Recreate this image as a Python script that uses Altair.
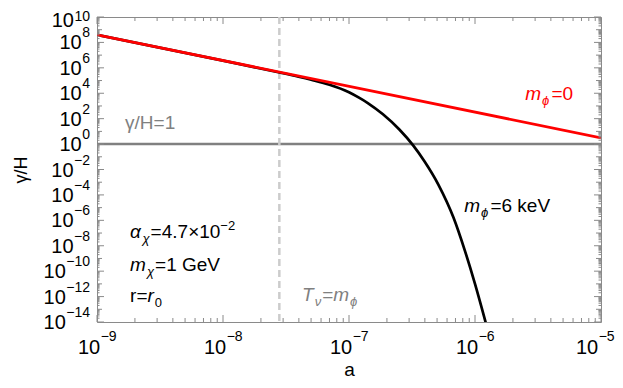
import altair as alt
import pandas as pd

# ---------------- data ----------------
red_a = [1e-9, 1e-5]
red_y = [4.0e8, 3.1]

black_a = [1e-9, 1e-8, 2.75e-8, 3.98e-8, 5.01e-8, 7.0e-8, 1.0e-7, 1.2e-7, 1.41e-7, 1.86e-7,
           2.51e-7, 3.24e-7, 3.98e-7, 5.13e-7, 6.76e-7, 8.32e-7, 1.0e-6, 1.22e-6]
black_y = [4.0e8, 3.7e6, 4.5e5, 2.0e5, 1.15e5, 4.7e4, 1.2e4, 4.5e3, 1.7e3, 2.2e2,
           1.4e1, 7.6e-1, 4.3e-2, 6.3e-4, 1.6e-6, 4.0e-9, 1.0e-11, 8.0e-15]

unity_y = [1.0]
threshold_a = [2.8e-8]

x_exponents = [-9, -8, -7, -6, -5]
y_exponents = list(range(-14, 11, 2))
x_tick_values = [10.0 ** e for e in x_exponents]
y_tick_values = [10.0 ** e for e in y_exponents]
x_minor = [m * 10.0 ** e for e in range(-9, -5) for m in range(2, 10)]
y_decades = [10.0 ** e for e in range(-13, 10, 2)]
y_minor = [m * 10.0 ** e for e in range(-14, 10) for m in range(2, 10)]

# ---------------- styling ----------------
W, H = 504, 305
FONT = "Liberation Sans"
FRAME = "#8a8a8a"
RED = "#ff0000"
GRAY = "#808080"
BASE_FS = 20   # "10" of tick labels
EXP_FS = 14    # exponent of tick labels

xscale = alt.Scale(type="log", domain=[1e-9, 1e-5], nice=False)
yscale = alt.Scale(type="log", domain=[1e-14, 1e10], nice=False)

xaxis = alt.Axis(values=x_tick_values, labels=False, ticks=False, domain=False, grid=False,
                 title="a", titleFont=FONT, titleFontSize=19, titleFontWeight="normal",
                 titleColor="black", titleY=53, titleBaseline="alphabetic")
yaxis = alt.Axis(values=y_tick_values, labels=False, ticks=False, domain=False, grid=False,
                 title="γ/H", titleFont=FONT, titleFontSize=18, titleFontWeight="normal",
                 titleColor="black", titleX=-71, titleY=H / 2, titleAlign="center",
                 titleBaseline="alphabetic", titleAngle=270)


def X(f):
    return alt.X(f, type="quantitative", scale=xscale, axis=xaxis)


def Y(f):
    return alt.Y(f, type="quantitative", scale=yscale, axis=yaxis)


EM = {"m": 0.833, "=": 0.584, " ": 0.278, "k": 0.5, "e": 0.556, "V": 0.667, "G": 0.778,
      "r": 0.333, "T": 0.611, ".": 0.278, "×": 0.584, "α": 0.6, "χ": 0.55, "ϕ": 0.65,
      "ν": 0.5, "γ": 0.5, "/": 0.278, "H": 0.722, "−": 0.584}


def width(txt, size):
    return sum(EM.get(c, 0.556) for c in txt) * size


def exp_text(e):
    return str(e).replace("-", "−")


layers = []

# horizontal gamma/H = 1 line
layers.append(
    alt.Chart(pd.DataFrame({"y": unity_y})).mark_rule(color=GRAY, strokeWidth=2.5)
    .encode(y=Y("y"))
)
# vertical dashed T = m line
layers.append(
    alt.Chart(pd.DataFrame({"a": threshold_a}))
    .mark_rule(color="#cccccc", strokeWidth=2.5, strokeDash=[7, 4])
    .encode(x=X("a"))
)
# black curve (m_phi = 6 keV)
layers.append(
    alt.Chart(pd.DataFrame({"a": black_a, "g": black_y}))
    .mark_line(color="black", strokeWidth=2.7, clip=True, interpolate="monotone")
    .encode(x=X("a"), y=Y("g"))
)
# red line (m_phi = 0)
layers.append(
    alt.Chart(pd.DataFrame({"a": red_a, "g": red_y}))
    .mark_line(color=RED, strokeWidth=2.8, clip=True)
    .encode(x=X("a"), y=Y("g"))
)


# ---------------- inward ticks on all four sides ----------------
def xticks(vals, L):
    base = alt.Chart(pd.DataFrame({"v": vals})).mark_rule(color=FRAME, strokeWidth=1)
    return [base.encode(x=X("v"), y=alt.value(H), y2=alt.value(H - L)),
            base.encode(x=X("v"), y=alt.value(0), y2=alt.value(L))]


def yticks(vals, L):
    base = alt.Chart(pd.DataFrame({"v": vals})).mark_rule(color=FRAME, strokeWidth=1)
    return [base.encode(y=Y("v"), x=alt.value(0), x2=alt.value(L)),
            base.encode(y=Y("v"), x=alt.value(W), x2=alt.value(W - L))]


layers += xticks(x_tick_values, 7) + xticks(x_minor, 4)
layers += yticks(y_tick_values, 7) + yticks(y_decades, 5) + yticks(y_minor, 2.5)


# ---------------- tick labels 10^n, built as "10" + raised exponent ----------------
def x_labels(exps, shift=0.0):
    df = pd.DataFrame({"v": [10.0 ** e for e in exps], "e": [exp_text(e) for e in exps]})
    wexp = width(exp_text(exps[0]), EXP_FS)
    wbase = width("10", BASE_FS)
    right_of_10 = (wbase + wexp) / 2 - wexp + shift
    base = alt.Chart(df).mark_text(align="right", baseline="alphabetic", dx=right_of_10,
                                   font=FONT, fontSize=BASE_FS, color="black")
    sup = alt.Chart(df).mark_text(align="left", baseline="alphabetic", dx=right_of_10 + 0.5,
                                  font=FONT, fontSize=EXP_FS, color="black")
    return [base.encode(x=X("v"), y=alt.value(H + 32), text=alt.value("10")),
            sup.encode(x=X("v"), y=alt.value(H + 19), text="e:N")]


def y_labels(exps, base_dy=7.0, exp_dy=-5.0):
    df = pd.DataFrame({"v": [10.0 ** e for e in exps], "e": [exp_text(e) for e in exps]})
    wexp = width(exp_text(exps[0]), EXP_FS)
    base = alt.Chart(df).mark_text(align="right", baseline="alphabetic", dx=-wexp - 0.5,
                                   dy=base_dy, font=FONT, fontSize=BASE_FS, color="black")
    sup = alt.Chart(df).mark_text(align="right", baseline="alphabetic", dy=exp_dy,
                                  font=FONT, fontSize=EXP_FS, color="black")
    return [base.encode(x=alt.value(-7), y=Y("v"), text=alt.value("10")),
            sup.encode(x=alt.value(-7), y=Y("v"), text="e:N")]


layers += x_labels([-9, -8, -7, -6]) + x_labels([-5], shift=-6)
layers += y_labels([e for e in y_exponents if 0 <= e < 10])
layers += y_labels([10], base_dy=10, exp_dy=4)
layers += y_labels([e for e in y_exponents if -10 < e < 0])
layers += y_labels([e for e in y_exponents if e <= -10])

# ---------------- annotations (rich text built from pieces) ----------------
S = 19
SUB = 13


def rich(x, y, pieces, color):
    out = []
    dx = 0.0
    for txt, kind in pieces:
        size = S if kind in ("n", "i") else SUB
        dy = 0
        if kind in ("sub", "isub"):
            dy = 5
        elif kind == "sup":
            dy = -8
        style = "italic" if kind in ("i", "isub") else "normal"
        out.append(
            alt.Chart(pd.DataFrame({"x": [x], "y": [y], "t": [txt]}))
            .mark_text(align="left", baseline="alphabetic", dx=dx, dy=dy, font=FONT,
                       fontSize=size, fontStyle=style, color=color)
            .encode(x=X("x"), y=Y("y"), text="t:N")
        )
        dx += width(txt, size) + (1 if kind != "n" else 0)
    return out


layers += rich(1.67e-9, 15.7, [("γ/H=1", "n")], GRAY)
layers += rich(2.5e-6, 2850, [("m", "i"), ("ϕ", "isub"), ("=0", "n")], RED)
layers += rich(8.2e-7, 4.7e-6, [("m", "i"), ("ϕ", "isub"), ("=6 keV", "n")], "black")
layers += rich(4.24e-8, 4.4e-13, [("T", "i"), ("ν", "isub"), ("=", "n"), ("m", "i"), ("ϕ", "isub")], GRAY)
layers += rich(1.83e-9, 4.2e-8, [("α", "i"), ("χ", "isub"), ("=4.7×10", "n"), ("−2", "sup")], "black")
layers += rich(1.83e-9, 1.1e-10, [("m", "i"), ("χ", "isub"), ("=1 GeV", "n")], "black")
layers += rich(1.83e-9, 3.6e-13, [("r=", "n"), ("r", "i"), ("0", "sub")], "black")

chart = (
    alt.layer(*layers)
    .properties(width=W, height=H, autosize=alt.AutoSizeParams(type="none"),
                padding={"left": 89, "top": 9, "right": 14, "bottom": 58})
    .configure_view(stroke=FRAME, strokeWidth=1)
)

chart.save("out.html", embed_options={"renderer": "svg", "actions": False})
